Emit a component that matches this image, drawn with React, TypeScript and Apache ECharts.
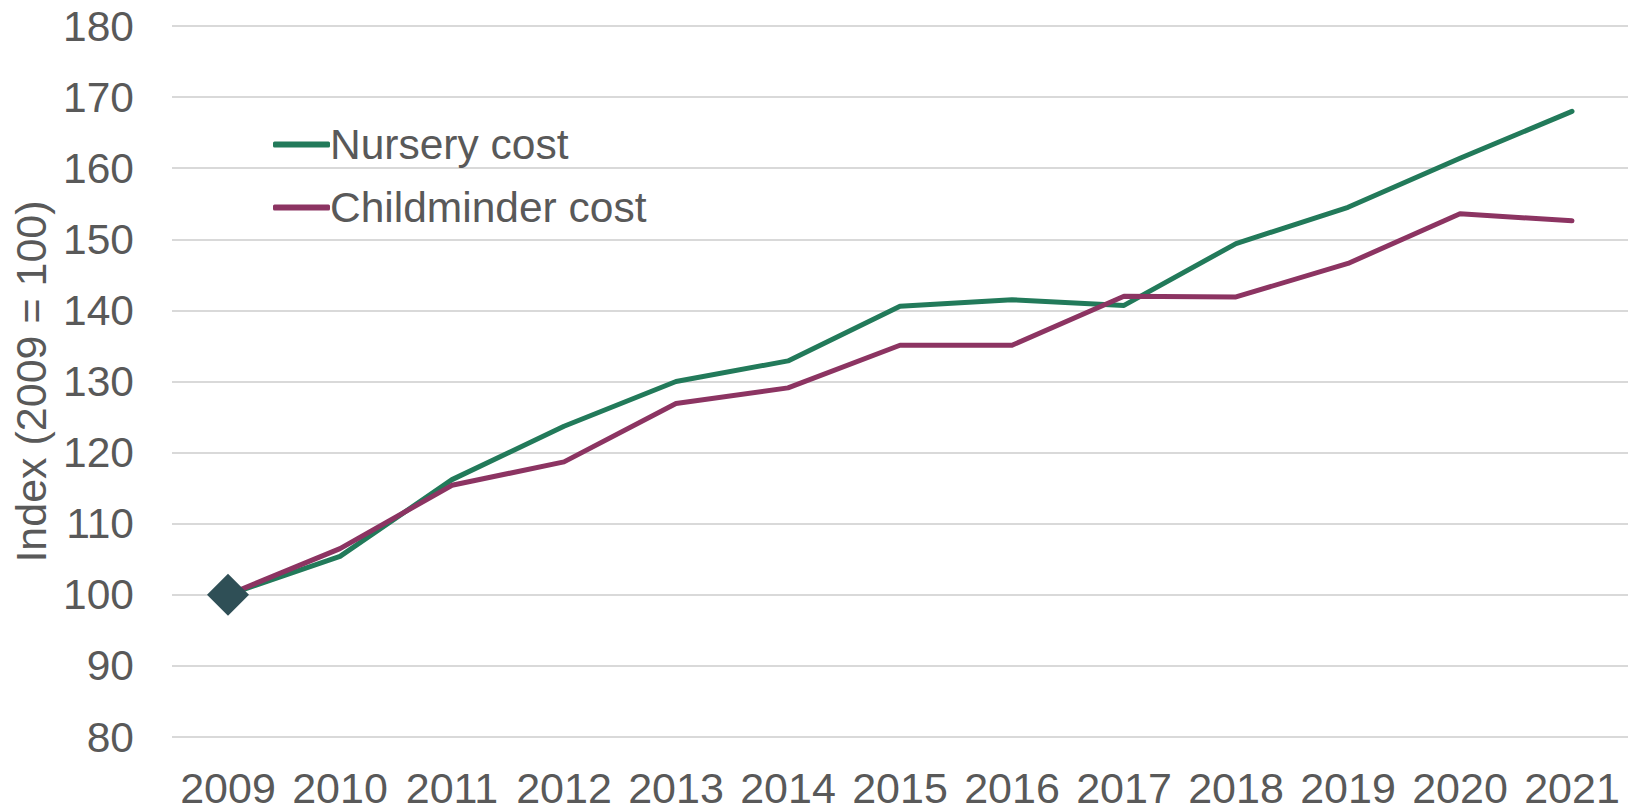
import React, { useEffect, useRef } from "react";
import * as echarts from "echarts";

const years = ["2009", "2010", "2011", "2012", "2013", "2014", "2015", "2016", "2017", "2018", "2019", "2020", "2021"];
const nurseryCost = [100, 105.4, 116.2, 123.7, 130.0, 132.9, 140.6, 141.5, 140.7, 149.4, 154.5, 161.4, 168.0];
const childminderCost = [100, 106.5, 115.4, 118.7, 126.9, 129.1, 135.1, 135.1, 142.0, 141.9, 146.6, 153.6, 152.6];
const baseYearPoint = [["2009", 100]];
const yTicks = { min: 80, max: 180, interval: 10 };

const FONT = "'Liberation Sans', Arial, sans-serif";
const TEXT = "#595959";

export default function App() {
  const ref = useRef<HTMLDivElement>(null);
  useEffect(() => {
    if (!ref.current) return;
    const chart = echarts.init(ref.current, undefined, { renderer: "svg" });
    chart.setOption({
      animation: false,
      backgroundColor: "#ffffff",
      grid: { left: 172, right: 0, top: 26, bottom: 66, containLabel: false },
      legend: {
        data: ["Nursery cost", "Childminder cost"],
        orient: "vertical",
        left: 268,
        top: 118,
        itemWidth: 57,
        itemHeight: 6,
        itemGap: 20,
        icon: "roundRect",
        textStyle: { fontFamily: FONT, fontSize: 42.5, color: TEXT, padding: [0, 0, 0, -5] },
      },
      xAxis: {
        type: "category",
        data: years,
        axisLine: { show: false },
        axisTick: { show: false },
        axisLabel: { fontFamily: FONT, fontSize: 43, color: TEXT, margin: 29, interval: 0 },
      },
      yAxis: {
        type: "value",
        min: yTicks.min,
        max: yTicks.max,
        interval: yTicks.interval,
        name: "Index (2009 = 100)",
        nameLocation: "middle",
        nameGap: 120,
        nameTextStyle: { fontFamily: FONT, fontSize: 43, color: TEXT },
        axisLine: { show: false },
        axisTick: { show: false },
        axisLabel: { fontFamily: FONT, fontSize: 42.5, color: TEXT, margin: 38 },
        splitLine: { lineStyle: { color: "#d9d9d9", width: 2 } },
      },
      series: [
        {
          name: "Nursery cost",
          type: "line",
          data: nurseryCost,
          symbol: "none",
          lineStyle: { color: "#227a5a", width: 5, cap: "round", join: "round" },
          itemStyle: { color: "#227a5a" },
        },
        {
          name: "Childminder cost",
          type: "line",
          data: childminderCost,
          symbol: "none",
          lineStyle: { color: "#8c3462", width: 5, cap: "round", join: "round" },
          itemStyle: { color: "#8c3462" },
        },
        {
          name: "Base",
          type: "scatter",
          data: baseYearPoint,
          symbol: "diamond",
          symbolSize: 42,
          itemStyle: { color: "#2f4f56", opacity: 1 },
          z: 5,
        },
      ],
    });
    return () => chart.dispose();
  }, []);
  return (
    <div
      ref={ref}
      style={{ position: "fixed", left: 0, top: 0, width: 1628, height: 809 }}
    />
  );
}
